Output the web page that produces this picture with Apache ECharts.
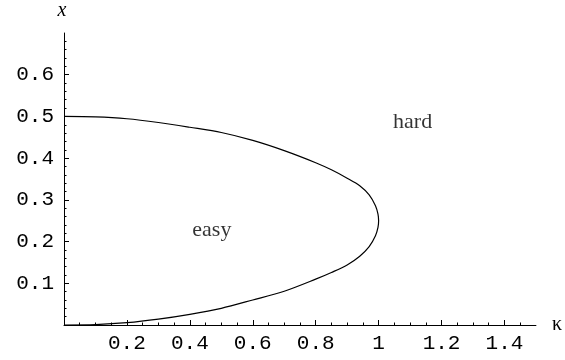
<!DOCTYPE html>
<html>
<head>
<meta charset="utf-8">
<script src="https://cdn.jsdelivr.net/npm/echarts@6/dist/echarts.min.js"></script>
<style>
html,body{margin:0;padding:0;background:#fff;}
#chart{width:565px;height:360px;}
</style>
</head>
<body>
<div id="chart"></div>
<script>
// Boundary curve, points [kappa, x] (upper branch then lower branch)
const boundaryKappa = [0, 0.1, 0.2, 0.3, 0.4, 0.5, 0.6, 0.7, 0.8, 0.85, 0.9, 0.94, 0.97, 0.99, 0.998, 1.0,
                       0.998, 0.99, 0.97, 0.94, 0.9, 0.85, 0.8, 0.7, 0.6, 0.5, 0.4, 0.3, 0.2, 0.1, 0];
const boundaryX     = [0.5, 0.499, 0.4945, 0.4855, 0.474, 0.4615, 0.4425, 0.418, 0.389, 0.372, 0.352, 0.334, 0.312, 0.286, 0.266, 0.25,
                       0.234, 0.214, 0.188, 0.165, 0.144, 0.126, 0.110, 0.081, 0.060, 0.040, 0.0255, 0.014, 0.0055, 0.001, 0];

// Region labels
const regionNames = ['easy', 'hard'];
const regionKappa = [0.47, 1.108];
const regionX = [0.228, 0.485];

// Ticks
const xMajorTicks = [0.2, 0.4, 0.6, 0.8, 1, 1.2, 1.4];
const xMinorTicks = [0.05, 0.1, 0.15, 0.25, 0.3, 0.35, 0.45, 0.5, 0.55, 0.65, 0.7, 0.75, 0.85, 0.9, 0.95, 1.05, 1.1, 1.15, 1.25, 1.3, 1.35, 1.45];
const yMajorTicks = [0.1, 0.2, 0.3, 0.4, 0.5, 0.6];
const yMinorTicks = [0.02, 0.04, 0.06, 0.08, 0.12, 0.14, 0.16, 0.18, 0.22, 0.24, 0.26, 0.28, 0.32, 0.34, 0.36, 0.38,
                     0.42, 0.44, 0.46, 0.48, 0.52, 0.54, 0.56, 0.58, 0.62, 0.64, 0.66, 0.68];

const chart = echarts.init(document.getElementById('chart'), null, {renderer: 'canvas'});
const monoFont = {fontFamily: 'Liberation Mono', fontSize: 21, color: '#000'};
const fmt = v => (Math.round(v * 10) / 10).toString();

const option = {
  animation: false,
  backgroundColor: '#fff',
  grid: {left: 64, right: 27, top: 33, bottom: 35, containLabel: false},
  xAxis: [
    {
      type: 'value', min: 0, max: 1.5, position: 'bottom',
      axisLine: {show: true, onZero: false, lineStyle: {color: '#000', width: 1}},
      axisTick: {show: true, inside: true, length: 5, customValues: xMajorTicks, lineStyle: {color: '#000', width: 1}},
      axisLabel: {show: true, customValues: xMajorTicks, formatter: fmt, margin: 8, ...monoFont},
      splitLine: {show: false},
      name: 'κ', nameLocation: 'end', nameGap: 16,
      nameTextStyle: {fontFamily: 'Liberation Serif', fontSize: 20, color: '#000', verticalAlign: 'middle'}
    },
    {
      type: 'value', min: 0, max: 1.5, position: 'bottom',
      axisLine: {show: false, onZero: false},
      axisTick: {show: true, inside: true, length: 2.5, customValues: xMinorTicks, lineStyle: {color: '#000', width: 1}},
      axisLabel: {show: false},
      splitLine: {show: false}
    }
  ],
  yAxis: [
    {
      type: 'value', min: 0, max: 0.7, position: 'left',
      axisLine: {show: true, onZero: false, lineStyle: {color: '#000', width: 1}},
      axisTick: {show: true, inside: true, length: 5, customValues: yMajorTicks, lineStyle: {color: '#000', width: 1}},
      axisLabel: {show: true, customValues: yMajorTicks, formatter: fmt, margin: 10, ...monoFont},
      splitLine: {show: false},
      name: 'x', nameLocation: 'end', nameGap: 12,
      nameTextStyle: {fontFamily: 'Liberation Serif', fontStyle: 'italic', fontSize: 20, color: '#000', align: 'center', padding: [0, 4, 0, 0]}
    },
    {
      type: 'value', min: 0, max: 0.7, position: 'left',
      axisLine: {show: false, onZero: false},
      axisTick: {show: true, inside: true, length: 2.5, customValues: yMinorTicks, lineStyle: {color: '#000', width: 1}},
      axisLabel: {show: false},
      splitLine: {show: false}
    }
  ],
  series: [
    {
      type: 'line',
      xAxisIndex: 0, yAxisIndex: 0,
      data: boundaryKappa.map((k, i) => [k, boundaryX[i]]),
      smooth: 0.3,
      showSymbol: false,
      symbol: 'none',
      lineStyle: {color: '#000', width: 1.2},
      silent: true
    },
    {
      type: 'scatter',
      xAxisIndex: 0, yAxisIndex: 0,
      symbolSize: 0,
      data: regionNames.map((n, i) => ({name: n, value: [regionKappa[i], regionX[i]]})),
      label: {
        show: true, position: 'inside', formatter: p => p.name,
        fontFamily: 'Liberation Serif', fontSize: 22, color: '#000'
      },
      silent: true
    }
  ]
};
chart.setOption(option);
</script>
</body>
</html>
